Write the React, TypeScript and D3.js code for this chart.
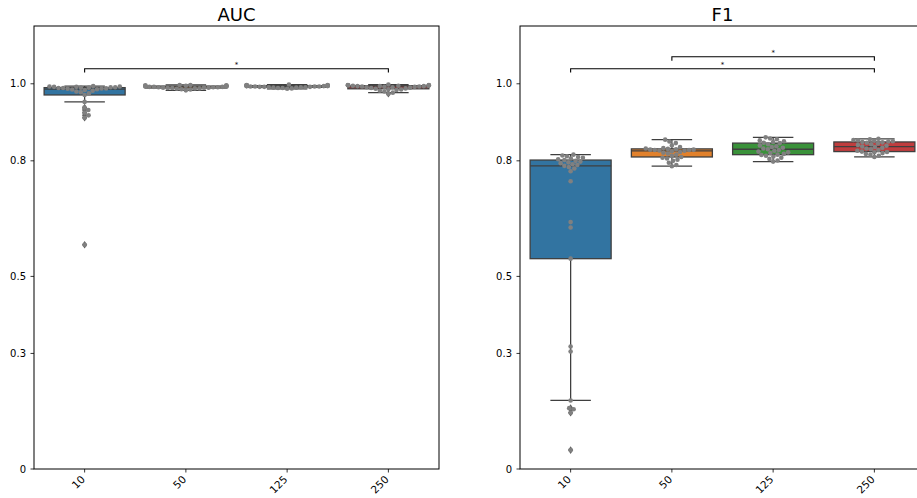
import * as d3 from 'd3';
import { useRef, useEffect } from 'react';

const categories = ['10', '50', '125', '250'];
const yTicks = [0, 0.3, 0.5, 0.8, 1.0];
const boxColors = ['#3274a1', '#e1812c', '#3a923a', '#c03d3e'];

// AUC per sample size (29 runs each)
const auc10 = [0.582, 0.912, 0.918, 0.925, 0.932, 0.938, 0.953, 0.971, 0.975, 0.978, 0.980, 0.982, 0.984, 0.985, 0.986, 0.987, 0.988, 0.988, 0.989, 0.989, 0.990, 0.990, 0.991, 0.991, 0.992, 0.992, 0.993, 0.993, 0.994];
const auc50 = [0.983, 0.985, 0.986, 0.987, 0.988, 0.988, 0.989, 0.989, 0.990, 0.990, 0.990, 0.991, 0.991, 0.991, 0.992, 0.992, 0.992, 0.993, 0.993, 0.993, 0.994, 0.994, 0.994, 0.995, 0.995, 0.996, 0.996, 0.997, 0.997];
const auc125 = [0.987, 0.988, 0.989, 0.989, 0.990, 0.990, 0.991, 0.991, 0.991, 0.992, 0.992, 0.992, 0.993, 0.993, 0.993, 0.993, 0.994, 0.994, 0.994, 0.994, 0.995, 0.995, 0.995, 0.996, 0.996, 0.996, 0.997, 0.997, 0.998];
const auc250 = [0.974, 0.977, 0.980, 0.982, 0.984, 0.985, 0.986, 0.987, 0.988, 0.989, 0.990, 0.991, 0.991, 0.992, 0.992, 0.993, 0.993, 0.994, 0.994, 0.994, 0.995, 0.995, 0.995, 0.996, 0.996, 0.996, 0.997, 0.997, 0.998];

// F1 per sample size
const f1_10 = [0.049, 0.146, 0.155, 0.158, 0.178, 0.305, 0.318, 0.546, 0.627, 0.641, 0.747, 0.773, 0.780, 0.784, 0.787, 0.789, 0.791, 0.794, 0.796, 0.798, 0.800, 0.802, 0.804, 0.806, 0.808, 0.810, 0.812, 0.814, 0.816];
const f1_50 = [0.786, 0.789, 0.795, 0.800, 0.803, 0.806, 0.808, 0.810, 0.813, 0.816, 0.819, 0.821, 0.823, 0.825, 0.826, 0.827, 0.828, 0.828, 0.829, 0.829, 0.830, 0.831, 0.832, 0.833, 0.836, 0.840, 0.846, 0.850, 0.855];
const f1_125 = [0.798, 0.801, 0.805, 0.808, 0.811, 0.813, 0.815, 0.816, 0.818, 0.820, 0.822, 0.824, 0.826, 0.828, 0.830, 0.832, 0.834, 0.836, 0.838, 0.840, 0.843, 0.846, 0.847, 0.849, 0.851, 0.853, 0.856, 0.858, 0.861];
const f1_250 = [0.810, 0.813, 0.816, 0.818, 0.820, 0.822, 0.823, 0.824, 0.826, 0.828, 0.830, 0.832, 0.834, 0.836, 0.837, 0.839, 0.841, 0.843, 0.845, 0.847, 0.848, 0.849, 0.850, 0.851, 0.852, 0.853, 0.854, 0.856, 0.857];

// significance brackets: [from, to, label]
const aucSig = [['10', '250', '*']];
const f1Sig = [['10', '250', '*'], ['50', '250', '*']];

const W = 917;
const H = 498;

function swarm(vals, cx, y, r, half) {
  const pts = vals.map(v => ({ v, py: y(v) })).sort((a, b) => a.v - b.v);
  const placed = [];
  pts.forEach(p => {
    const cands = [0];
    placed.forEach(q => {
      const dy = Math.abs(p.py - q.y);
      if (dy < 2 * r) {
        const dx = Math.sqrt(4 * r * r - dy * dy);
        cands.push(q.x + dx, q.x - dx);
      }
    });
    cands.sort((a, b) => Math.abs(a) - Math.abs(b));
    let x = cands[0];
    for (const c of cands) {
      const ok = placed.every(q => (q.x - c) ** 2 + (q.y - p.py) ** 2 >= 4 * r * r - 1e-6);
      if (ok) { x = c; break; }
    }
    placed.push({ x, y: p.py, v: p.v });
  });
  return placed.map(q => ({ x: cx + Math.max(-half, Math.min(half, q.x)), y: q.y, v: q.v }));
}

function drawPanel(g, { title, groups, sig, x0, x1, y0, y1 }) {
  const x = d3.scaleBand().domain(categories).range([x0, x1]).padding(0);
  const y = d3.scaleLinear().domain([0, 1.15]).range([y1, y0]);
  const bw = x.bandwidth();
  const boxW = bw * 0.8;
  const edge = '#3f3f3f';

  g.append('text')
    .attr('x', (x0 + x1) / 2)
    .attr('y', 21)
    .attr('text-anchor', 'middle')
    .style('font-family', 'DejaVu Sans')
    .style('font-size', '18px')
    .text(title);

  groups.forEach((vals, i) => {
    const cx = x(categories[i]) + bw / 2;
    const s = vals.slice().sort(d3.ascending);
    const q1 = d3.quantile(s, 0.25);
    const med = d3.quantile(s, 0.5);
    const q3 = d3.quantile(s, 0.75);
    const iqr = q3 - q1;
    const lo = d3.min(s.filter(v => v >= q1 - 1.5 * iqr));
    const hi = d3.max(s.filter(v => v <= q3 + 1.5 * iqr));
    const fliers = s.filter(v => v < lo || v > hi);

    // whiskers
    [[q1, lo], [q3, hi]].forEach(([a, b]) => {
      g.append('line').attr('x1', cx).attr('x2', cx).attr('y1', y(a)).attr('y2', y(b))
        .attr('stroke', edge).attr('stroke-width', 1.3);
      g.append('line').attr('x1', cx - boxW / 4).attr('x2', cx + boxW / 4).attr('y1', y(b)).attr('y2', y(b))
        .attr('stroke', edge).attr('stroke-width', 1.3);
    });
    g.append('rect')
      .attr('x', cx - boxW / 2).attr('y', y(q3))
      .attr('width', boxW).attr('height', Math.max(0.5, y(q1) - y(q3)))
      .attr('fill', boxColors[i]).attr('stroke', edge).attr('stroke-width', 1.3);
    g.append('line').attr('x1', cx - boxW / 2).attr('x2', cx + boxW / 2).attr('y1', y(med)).attr('y2', y(med))
      .attr('stroke', edge).attr('stroke-width', 1.3);

    fliers.forEach(v => {
      const py = y(v);
      g.append('path')
        .attr('d', `M${cx},${py - 3.8}L${cx + 2.6},${py}L${cx},${py + 3.8}L${cx - 2.6},${py}Z`)
        .attr('fill', '#5f5f5f');
    });

    swarm(vals, cx, y, 2.3, boxW / 2).forEach(p => {
      g.append('circle').attr('cx', p.x).attr('cy', p.y).attr('r', 2.3)
        .attr('fill', '#808080');
    });
  });

  // significance brackets
  sig.forEach(([a, b, label], k) => {
    const lvl = 1.039 + k * 0.031;
    const xa = x(a) + bw / 2;
    const xb = x(b) + bw / 2;
    g.append('path')
      .attr('d', `M${xa},${y(lvl - 0.01)}L${xa},${y(lvl)}L${xb},${y(lvl)}L${xb},${y(lvl - 0.01)}`)
      .attr('fill', 'none').attr('stroke', '#000').attr('stroke-width', 1.1);
    g.append('text')
      .attr('x', (xa + xb) / 2).attr('y', y(lvl) - 2)
      .attr('text-anchor', 'middle')
      .style('font-family', 'DejaVu Sans')
      .style('font-size', '7px')
      .text(label);
  });

  // frame
  g.append('rect').attr('x', x0).attr('y', y0).attr('width', x1 - x0).attr('height', y1 - y0)
    .attr('fill', 'none').attr('stroke', '#000').attr('stroke-width', 1);

  // y axis
  yTicks.forEach(t => {
    g.append('line').attr('x1', x0 - 3.5).attr('x2', x0).attr('y1', y(t)).attr('y2', y(t))
      .attr('stroke', '#000').attr('stroke-width', 0.8);
    g.append('text')
      .attr('x', x0 - 8).attr('y', y(t)).attr('dy', '0.35em')
      .attr('text-anchor', 'end')
      .style('font-family', 'DejaVu Sans').style('font-size', '10px')
      .text(t === 0 ? '0' : d3.format('.1f')(t));
  });

  // x axis
  categories.forEach(c => {
    const cx = x(c) + bw / 2;
    g.append('line').attr('x1', cx).attr('x2', cx).attr('y1', y1).attr('y2', y1 + 3.5)
      .attr('stroke', '#000').attr('stroke-width', 0.8);
    g.append('text')
      .attr('transform', `translate(${cx + 1},${y1 + 11}) rotate(-45)`)
      .attr('text-anchor', 'end')
      .style('font-family', 'DejaVu Sans').style('font-size', '10.5px')
      .text(c);
  });
}

export default function App() {
  const svgRef = useRef(null);

  useEffect(() => {
    const svg = d3.select(svgRef.current);
    svg.selectAll('*').remove();
    drawPanel(svg.append('g'), {
      title: 'AUC', groups: [auc10, auc50, auc125, auc250], sig: aucSig,
      x0: 34, x1: 439, y0: 26, y1: 469,
    });
    drawPanel(svg.append('g'), {
      title: 'F1', groups: [f1_10, f1_50, f1_125, f1_250], sig: f1Sig,
      x0: 520, x1: 925, y0: 26, y1: 469,
    });
  }, []);

  return (
    <svg ref={svgRef} width={W} height={H}
      style={{ position: 'absolute', left: 0, top: 0, background: '#fff' }} />
  );
}
